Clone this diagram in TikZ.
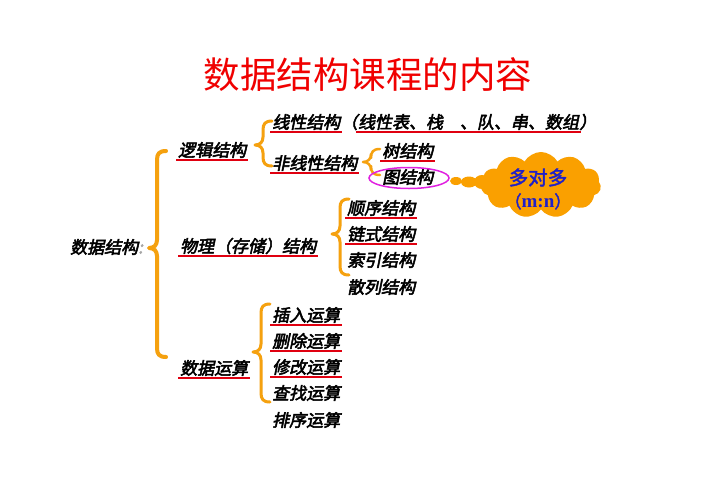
\documentclass[tikz,border=0pt]{standalone}
\usepackage{fontspec}
\usetikzlibrary{shapes.symbols,shapes.geometric}
\newfontfamily\cjkt{Noto Sans CJK SC}
\newfontfamily\cjkb[FakeSlant=0.2,FakeBold=3]{Noto Sans CJK SC}
\newfontfamily\cjkc[FakeBold=2]{Noto Sans CJK SC}
\newfontfamily\lserif{Liberation Serif}
\definecolor{brorange}{HTML}{F5A10F}
\definecolor{ulred}{HTML}{E00010}
\definecolor{titred}{HTML}{F00000}
\definecolor{cloudor}{HTML}{FAA000}
\definecolor{txtblue}{HTML}{2020C8}
\definecolor{ellmag}{HTML}{E020E0}
\newcommand\mybrace[5]{%
  \draw[br,line width=#5] ({#1+9},{#2}) .. controls ({#1+2},{#2}) and ({#1},{#2+3}) .. ({#1},{#2+9})
   -- ({#1},{#3-8}) .. controls ({#1},{#3-3}) and ({#1-3},{#3}) .. ({#1-8},{#3})
   .. controls ({#1-3},{#3}) and ({#1},{#3+3}) .. ({#1},{#3+8})
   -- ({#1},{#4-9}) .. controls ({#1},{#4-3}) and ({#1+2},{#4}) .. ({#1+9},{#4});}
\begin{document}
\begin{tikzpicture}[x=1pt,y=-1pt,
  lbl/.style={anchor=west,inner sep=0pt,font=\cjkb\fontsize{17}{17}\selectfont},
  ul/.style={draw=ulred,line width=2pt},
  br/.style={draw=brorange,line cap=round,line join=round},
  bubble/.style={ellipse,fill=cloudor,inner sep=0pt}]
\useasboundingbox[fill=white] (0,0) rectangle (702,496);
\node[font=\cjkt\fontsize{36.5}{36.5}\selectfont,text=titred] (title) at (368,75) {数据结构课程的内容};
% labels
\node[lbl] (ds) at (70,247) {数据结构\textcolor{black!35}{:}};
\node[lbl] (lj) at (178,150) {逻辑结构};
\node[lbl] (wl) at (180,246) {物理（存储）结构};
\node[lbl] (ys) at (180,368) {数据运算};
\node[lbl] (xx) at (272,122) {线性结构};
\node[lbl] (xxl) at (xx.east) {（};
\node[lbl] (xxm) at (xxl.east) {线性表、栈　、队、串、数组};
\node[lbl] (xxr) at (xxm.east) {）};
\node[lbl] (fx) at (272,163) {非线性结构};
\node[lbl] (sj) at (382,151) {树结构};
\node[lbl] (tj) at (382,177) {图结构};
\node[lbl] (sx) at (347,208) {顺序结构};
\node[lbl] (ls) at (347,234) {链式结构};
\node[lbl] (sy) at (347,260) {索引结构};
\node[lbl] (sl) at (347,287) {散列结构};
\node[lbl] (cr) at (272,315) {插入运算};
\node[lbl] (sc) at (272,341) {删除运算};
\node[lbl] (xg) at (272,367) {修改运算};
\node[lbl] (cz) at (272,393) {查找运算};
\node[lbl] (px) at (272,420) {排序运算};
% underlines
\foreach \n in {lj,wl,ys,xx,xxm,fx,sj,sx,ls,cr,sc,xg}
  \draw[ul] ([xshift=-2pt,yshift=-2pt]\n.south west) -- ([xshift=2pt,yshift=-2pt]\n.south east);
% braces
\mybrace{157}{151}{248}{357}{4pt}
\mybrace{263}{121}{145}{166}{3pt}
\mybrace{371}{149}{162}{175}{2.5pt}
\mybrace{340}{199}{234}{275}{3pt}
\mybrace{261}{304}{352}{402}{3pt}
% ellipse around graph structure
\node[ellipse,draw=ellmag,line width=1.5pt,minimum width=80pt,minimum height=21pt] (ell) at (409,178) {};
% thought bubbles and cloud
\node[bubble,minimum width=12pt,minimum height=8pt] (b1) at (456,181) {};
\node[bubble,minimum width=16pt,minimum height=11pt] (b2) at (469,182) {};
\node[bubble,minimum width=16pt,minimum height=14pt] (b3) at (482,182) {};
\node[cloud,cloud puffs=11,cloud puff arc=120,fill=cloudor,minimum width=120pt,minimum height=66pt,aspect=1.9,inner sep=0pt] (cl) at (541,185) {};
\node[text=txtblue,align=center,inner sep=0pt,font=\cjkc\fontsize{19.5}{23}\selectfont] (clt) at (538,189) {多对多\\{\fontsize{17}{23}\selectfont （}{\lserif\bfseries\fontsize{19}{23}\selectfont m:n}{\fontsize{17}{23}\selectfont ）}};
\end{tikzpicture}
\end{document}
